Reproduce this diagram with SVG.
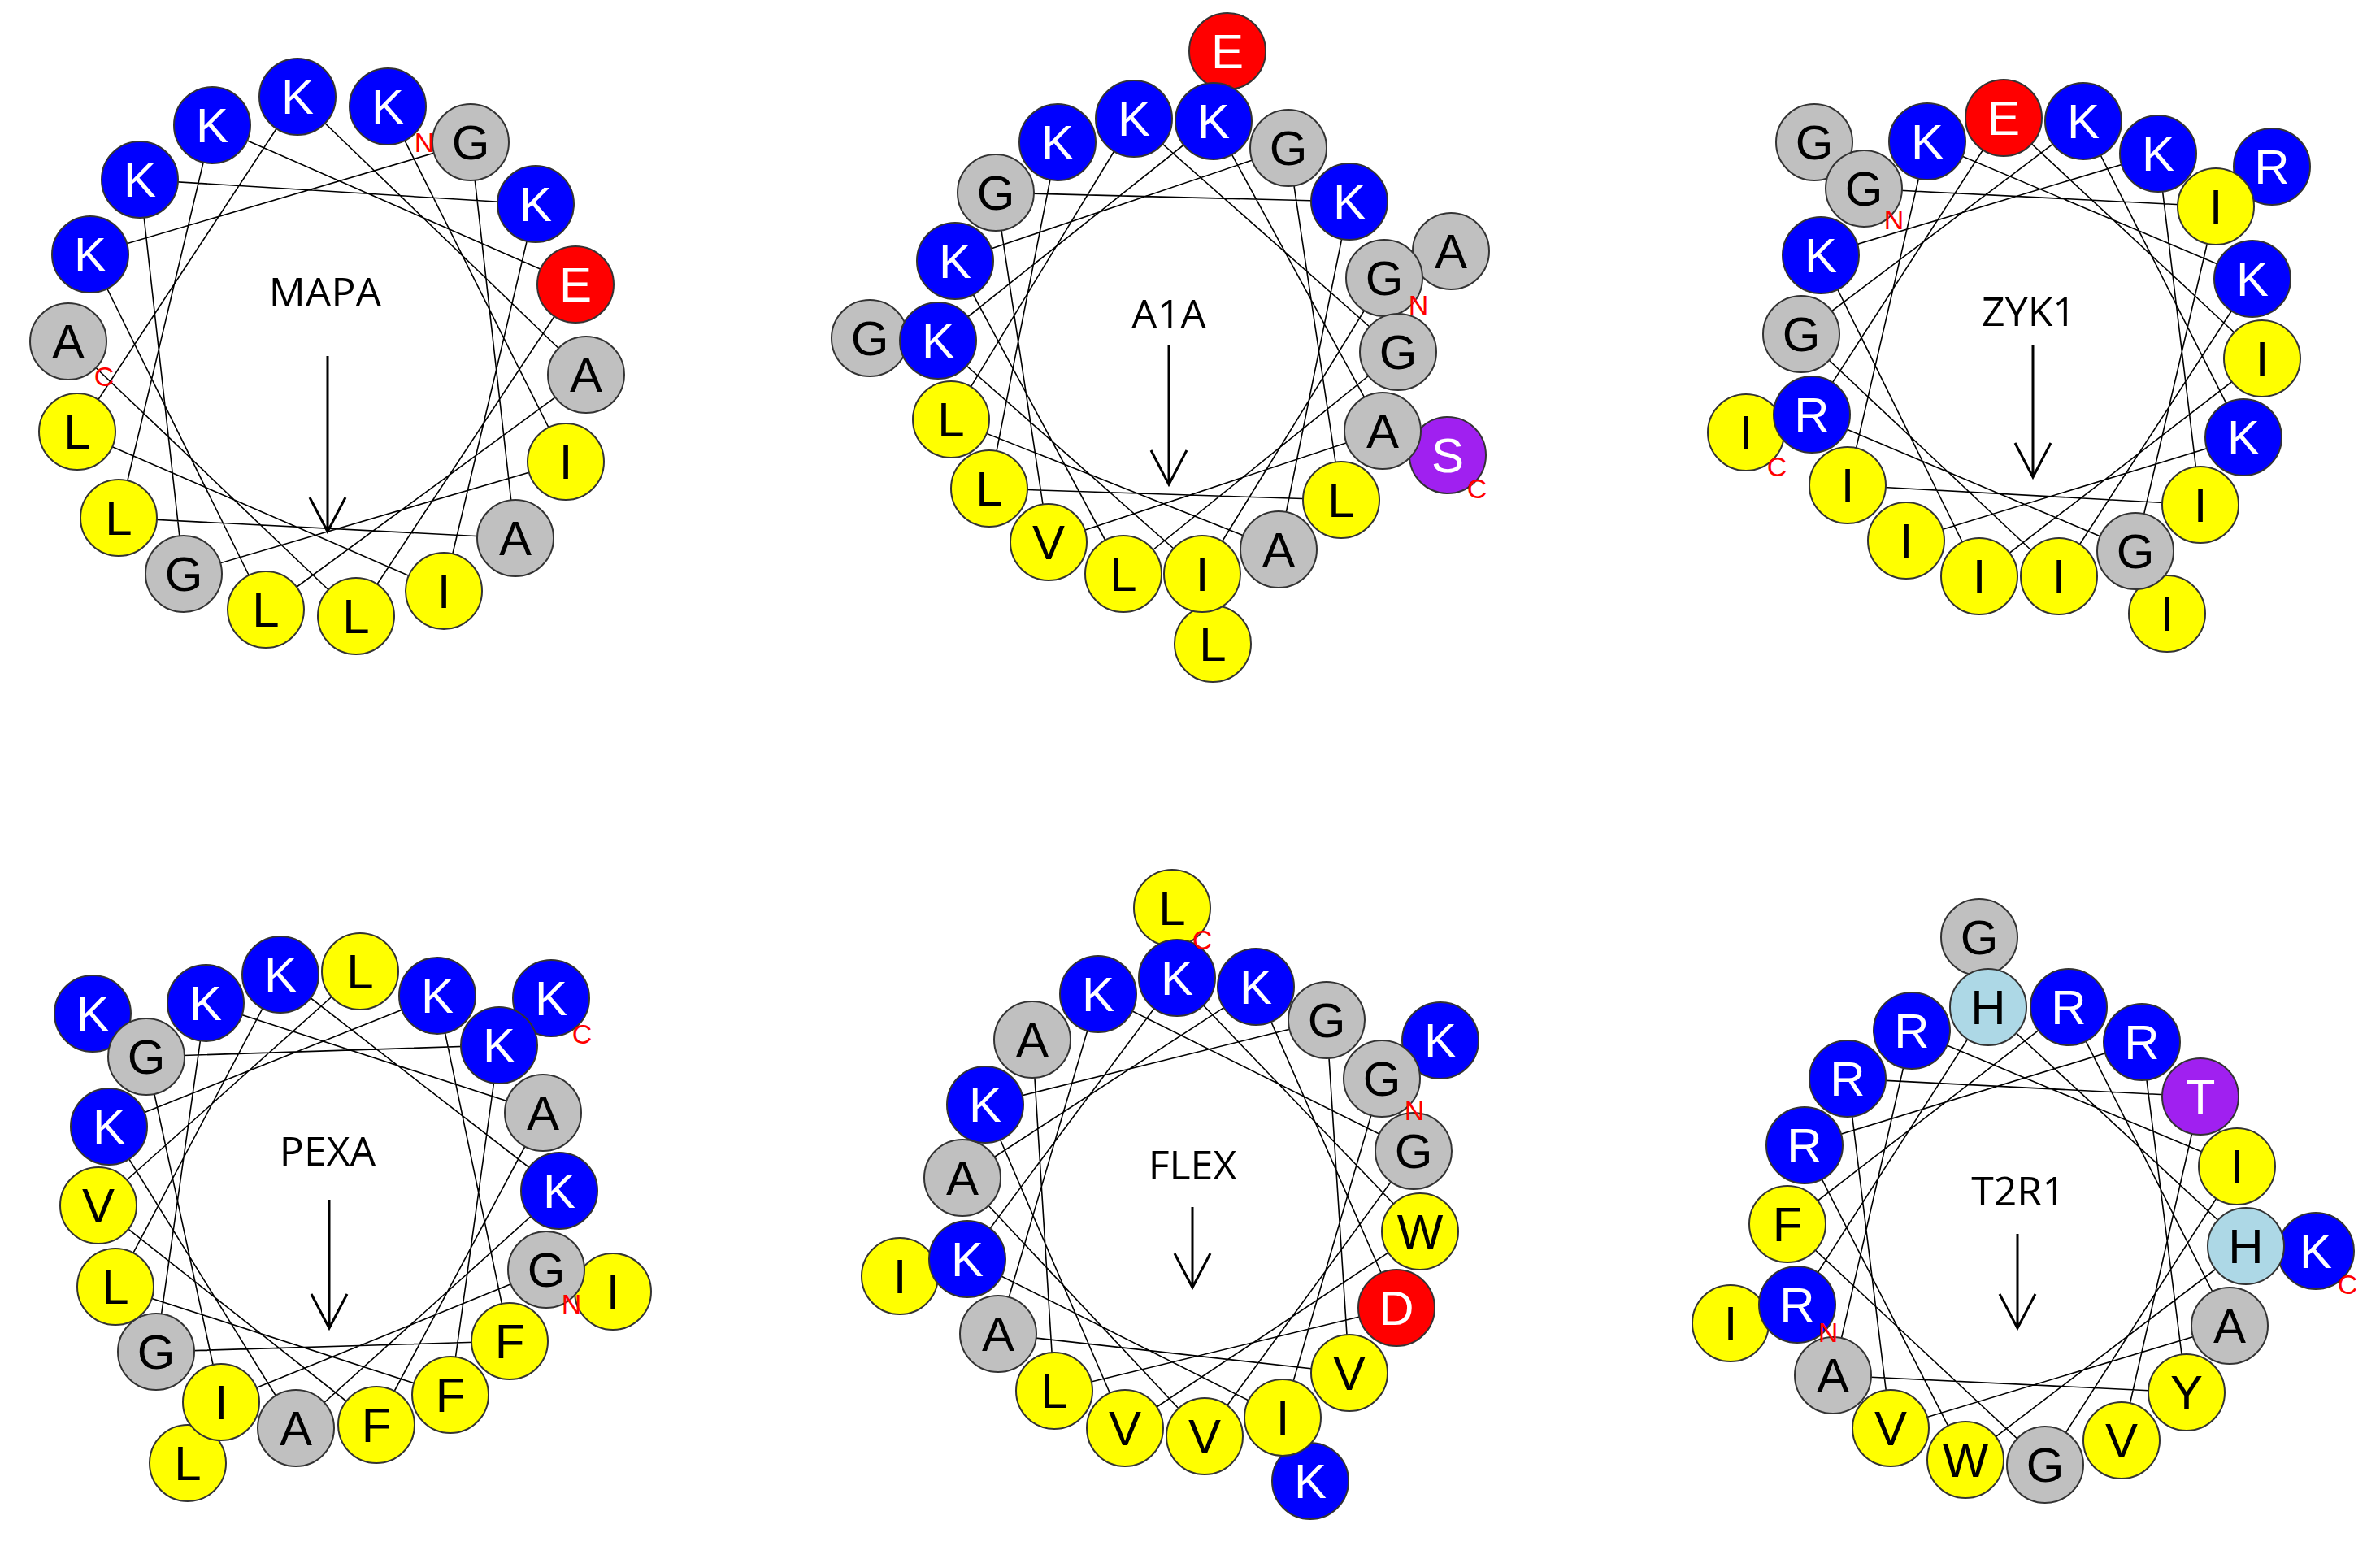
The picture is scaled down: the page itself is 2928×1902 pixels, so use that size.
<svg xmlns="http://www.w3.org/2000/svg" width="2928" height="1902" viewBox="0 0 2928 1902">
<style>
circle{stroke:#333;stroke-width:2}
.b{fill:#0000ff}.y{fill:#ffff00}.g{fill:#c0c0c0}.r{fill:#ff0000}.p{fill:#a020f0}.h{fill:#add8e6}
text{font-family:"Liberation Sans",Arial,sans-serif;text-anchor:middle}
.t{font-size:60px;fill:#000}.w{fill:#fff}
.nm{font-family:"Open Sans","Noto Sans",sans-serif;font-size:50px;fill:#000}
.nc{font-size:34px;fill:#ff0000}
.ch{fill:none;stroke:#000;stroke-width:1.6}
.ar{fill:none;stroke:#000;stroke-width:3}
</style>
<rect width="2928" height="1902" fill="#fff"/>
<g id="connectors">
<path class="ch" d="M366,119L721,461M477,131L696,568M579,175L634,662M659,251L546,727M708,350L438,758M721,461L327,750M696,568L226,706M634,662L146,637M546,727L95,531M438,758L84,420M327,750L111,313M226,706L172,221M146,637L261,154M95,531L366,119M111,313L579,175M172,221L659,251M261,154L708,350"/>
<path class="ch" d="M1493,149L1701,530M1585,182L1650,615M1660,248L1573,676M1703,342L1479,706M1720,433L1382,706M1701,530L1290,667M1650,615L1217,601M1573,676L1170,516M1479,706L1154,419M1382,706L1175,321M1290,667L1225,237M1217,601L1301,175M1170,516L1395,146M1154,419L1493,149M1175,321L1585,182M1225,237L1660,248M1395,146L1720,433"/>
<path class="ch" d="M2465,145L2783,441M2563,149L2760,538M2655,189L2707,621M2726,254L2627,678M2771,343L2533,709M2783,441L2435,709M2760,538L2345,665M2707,621L2273,597M2627,678L2229,510M2533,709L2216,411M2435,709L2240,314M2273,597L2371,174M2229,510L2465,145M2216,411L2563,149M2240,314L2655,189M2293,232L2726,254M2371,174L2771,343"/>
<path class="ch" d="M538,1225L627,1650M614,1286L554,1716M668,1369L463,1753M688,1465L364,1757M672,1562L272,1725M627,1650L192,1663M554,1716L142,1583M463,1753L121,1483M364,1757L134,1386M272,1725L180,1300M192,1663L253,1234M142,1583L345,1199M121,1483L443,1195M134,1386L538,1225M180,1300L614,1286M253,1234L668,1369M345,1199L688,1465"/>
<path class="ch" d="M1448,1203L1747,1515M1545,1214L1718,1609M1632,1255L1660,1689M1700,1327L1578,1744M1739,1416L1482,1767M1747,1515L1384,1757M1718,1609L1297,1711M1660,1689L1228,1641M1578,1744L1190,1549M1482,1767L1184,1449M1384,1757L1212,1359M1297,1711L1270,1279M1228,1641L1351,1223M1190,1549L1448,1203M1184,1449L1545,1214M1212,1359L1632,1255M1351,1223L1739,1416"/>
<path class="ch" d="M2446,1239L2763,1533M2545,1239L2743,1631M2635,1282L2690,1713M2707,1349L2610,1772M2752,1435L2516,1802M2763,1533L2418,1796M2743,1631L2326,1757M2690,1713L2255,1692M2516,1802L2199,1506M2418,1796L2220,1409M2326,1757L2273,1327M2255,1692L2352,1268M2211,1605L2446,1239M2199,1506L2545,1239M2220,1409L2635,1282M2273,1327L2707,1349M2352,1268L2752,1435"/>
<path class="ar" d="M403,438V654M381,612L403,654L425,612"/>
<path class="ar" d="M1438,425V596M1416,554L1438,596L1460,554"/>
<path class="ar" d="M2501,425V587M2479,545L2501,587L2523,545"/>
<path class="ar" d="M405,1476V1634M383,1592L405,1634L427,1592"/>
<path class="ar" d="M1467,1485V1584M1445,1542L1467,1584L1489,1542"/>
<path class="ar" d="M2482,1518V1634M2460,1592L2482,1634L2504,1592"/>
</g>
<g id="labels">
<text class="nm" x="400" y="377">MAPA</text>
<text class="nm" x="1438" y="404">A1A</text>
<text class="nm" x="2496" y="401">ZYK1</text>
<text class="nm" x="403" y="1434">PEXA</text>
<text class="nm" x="1467" y="1451">FLEX</text>
<text class="nm" x="2483" y="1483">T2R1</text>
</g>
<g id="mapa">
<g id="mapa-0"><circle class="b" cx="366" cy="119" r="47"/><text class="t w" x="366" y="140">K</text></g>
<g id="mapa-1"><circle class="b" cx="477" cy="131" r="47"/><text class="t w" x="477" y="152">K</text></g>
<g id="mapa-2"><circle class="g" cx="579" cy="175" r="47"/><text class="t" x="579" y="196">G</text></g>
<g id="mapa-3"><circle class="b" cx="659" cy="251" r="47"/><text class="t w" x="659" y="272">K</text></g>
<g id="mapa-4"><circle class="r" cx="708" cy="350" r="47"/><text class="t w" x="708" y="371">E</text></g>
<g id="mapa-5"><circle class="g" cx="721" cy="461" r="47"/><text class="t" x="721" y="482">A</text></g>
<g id="mapa-6"><circle class="y" cx="696" cy="568" r="47"/><text class="t" x="696" y="589">I</text></g>
<g id="mapa-7"><circle class="g" cx="634" cy="662" r="47"/><text class="t" x="634" y="683">A</text></g>
<g id="mapa-8"><circle class="y" cx="546" cy="727" r="47"/><text class="t" x="546" y="748">I</text></g>
<g id="mapa-9"><circle class="y" cx="438" cy="758" r="47"/><text class="t" x="438" y="779">L</text></g>
<g id="mapa-10"><circle class="y" cx="327" cy="750" r="47"/><text class="t" x="327" y="771">L</text></g>
<g id="mapa-11"><circle class="g" cx="226" cy="706" r="47"/><text class="t" x="226" y="727">G</text></g>
<g id="mapa-12"><circle class="y" cx="146" cy="637" r="47"/><text class="t" x="146" y="658">L</text></g>
<g id="mapa-13"><circle class="y" cx="95" cy="531" r="47"/><text class="t" x="95" y="552">L</text></g>
<g id="mapa-14"><circle class="g" cx="84" cy="420" r="47"/><text class="t" x="84" y="441">A</text></g>
<g id="mapa-15"><circle class="b" cx="111" cy="313" r="47"/><text class="t w" x="111" y="334">K</text></g>
<g id="mapa-16"><circle class="b" cx="172" cy="221" r="47"/><text class="t w" x="172" y="242">K</text></g>
<g id="mapa-17"><circle class="b" cx="261" cy="154" r="47"/><text class="t w" x="261" y="175">K</text></g>
<text class="nc" x="522" y="187">N</text><text class="nc" x="128" y="475">C</text>
</g>
<g id="a1a">
<g id="a1a-o1"><circle class="r" cx="1510" cy="63" r="47"/><text class="t w" x="1510" y="84">E</text></g>
<g id="a1a-o2"><circle class="g" cx="1785" cy="309" r="47"/><text class="t" x="1785" y="330">A</text></g>
<g id="a1a-o3"><circle class="p" cx="1781" cy="560" r="47"/><text class="t w" x="1781" y="581">S</text></g>
<g id="a1a-o4"><circle class="y" cx="1492" cy="792" r="47"/><text class="t" x="1492" y="813">L</text></g>
<g id="a1a-o5"><circle class="g" cx="1070" cy="416" r="47"/><text class="t" x="1070" y="437">G</text></g>
<g id="a1a-0"><circle class="b" cx="1493" cy="149" r="47"/><text class="t w" x="1493" y="170">K</text></g>
<g id="a1a-1"><circle class="g" cx="1585" cy="182" r="47"/><text class="t" x="1585" y="203">G</text></g>
<g id="a1a-2"><circle class="b" cx="1660" cy="248" r="47"/><text class="t w" x="1660" y="269">K</text></g>
<g id="a1a-3"><circle class="g" cx="1703" cy="342" r="47"/><text class="t" x="1703" y="363">G</text></g>
<g id="a1a-4"><circle class="g" cx="1720" cy="433" r="47"/><text class="t" x="1720" y="454">G</text></g>
<g id="a1a-5"><circle class="g" cx="1701" cy="530" r="47"/><text class="t" x="1701" y="551">A</text></g>
<g id="a1a-6"><circle class="y" cx="1650" cy="615" r="47"/><text class="t" x="1650" y="636">L</text></g>
<g id="a1a-7"><circle class="g" cx="1573" cy="676" r="47"/><text class="t" x="1573" y="697">A</text></g>
<g id="a1a-8"><circle class="y" cx="1479" cy="706" r="47"/><text class="t" x="1479" y="727">I</text></g>
<g id="a1a-9"><circle class="y" cx="1382" cy="706" r="47"/><text class="t" x="1382" y="727">L</text></g>
<g id="a1a-10"><circle class="y" cx="1290" cy="667" r="47"/><text class="t" x="1290" y="688">V</text></g>
<g id="a1a-11"><circle class="y" cx="1217" cy="601" r="47"/><text class="t" x="1217" y="622">L</text></g>
<g id="a1a-12"><circle class="y" cx="1170" cy="516" r="47"/><text class="t" x="1170" y="537">L</text></g>
<g id="a1a-13"><circle class="b" cx="1154" cy="419" r="47"/><text class="t w" x="1154" y="440">K</text></g>
<g id="a1a-14"><circle class="b" cx="1175" cy="321" r="47"/><text class="t w" x="1175" y="342">K</text></g>
<g id="a1a-15"><circle class="g" cx="1225" cy="237" r="47"/><text class="t" x="1225" y="258">G</text></g>
<g id="a1a-16"><circle class="b" cx="1301" cy="175" r="47"/><text class="t w" x="1301" y="196">K</text></g>
<g id="a1a-17"><circle class="b" cx="1395" cy="146" r="47"/><text class="t w" x="1395" y="167">K</text></g>
<text class="nc" x="1745" y="387">N</text><text class="nc" x="1817" y="613">C</text>
</g>
<g id="zyk1">
<g id="zyk1-o1"><circle class="g" cx="2232" cy="175" r="47"/><text class="t" x="2232" y="196">G</text></g>
<g id="zyk1-o2"><circle class="b" cx="2795" cy="205" r="47"/><text class="t w" x="2795" y="226">R</text></g>
<g id="zyk1-o3"><circle class="y" cx="2666" cy="755" r="47"/><text class="t" x="2666" y="776">I</text></g>
<g id="zyk1-o4"><circle class="y" cx="2148" cy="532" r="47"/><text class="t" x="2148" y="553">I</text></g>
<g id="zyk1-0"><circle class="r" cx="2465" cy="145" r="47"/><text class="t w" x="2465" y="166">E</text></g>
<g id="zyk1-1"><circle class="b" cx="2563" cy="149" r="47"/><text class="t w" x="2563" y="170">K</text></g>
<g id="zyk1-2"><circle class="b" cx="2655" cy="189" r="47"/><text class="t w" x="2655" y="210">K</text></g>
<g id="zyk1-3"><circle class="y" cx="2726" cy="254" r="47"/><text class="t" x="2726" y="275">I</text></g>
<g id="zyk1-4"><circle class="b" cx="2771" cy="343" r="47"/><text class="t w" x="2771" y="364">K</text></g>
<g id="zyk1-5"><circle class="y" cx="2783" cy="441" r="47"/><text class="t" x="2783" y="462">I</text></g>
<g id="zyk1-6"><circle class="b" cx="2760" cy="538" r="47"/><text class="t w" x="2760" y="559">K</text></g>
<g id="zyk1-7"><circle class="y" cx="2707" cy="621" r="47"/><text class="t" x="2707" y="642">I</text></g>
<g id="zyk1-8"><circle class="g" cx="2627" cy="678" r="47"/><text class="t" x="2627" y="699">G</text></g>
<g id="zyk1-9"><circle class="y" cx="2533" cy="709" r="47"/><text class="t" x="2533" y="730">I</text></g>
<g id="zyk1-10"><circle class="y" cx="2435" cy="709" r="47"/><text class="t" x="2435" y="730">I</text></g>
<g id="zyk1-11"><circle class="y" cx="2345" cy="665" r="47"/><text class="t" x="2345" y="686">I</text></g>
<g id="zyk1-12"><circle class="y" cx="2273" cy="597" r="47"/><text class="t" x="2273" y="618">I</text></g>
<g id="zyk1-13"><circle class="b" cx="2229" cy="510" r="47"/><text class="t w" x="2229" y="531">R</text></g>
<g id="zyk1-14"><circle class="g" cx="2216" cy="411" r="47"/><text class="t" x="2216" y="432">G</text></g>
<g id="zyk1-15"><circle class="b" cx="2240" cy="314" r="47"/><text class="t w" x="2240" y="335">K</text></g>
<g id="zyk1-16"><circle class="g" cx="2293" cy="232" r="47"/><text class="t" x="2293" y="253">G</text></g>
<g id="zyk1-17"><circle class="b" cx="2371" cy="174" r="47"/><text class="t w" x="2371" y="195">K</text></g>
<text class="nc" x="2330" y="282">N</text><text class="nc" x="2186" y="586">C</text>
</g>
<g id="pexa">
<g id="pexa-o1"><circle class="b" cx="114" cy="1247" r="47"/><text class="t w" x="114" y="1268">K</text></g>
<g id="pexa-o2"><circle class="b" cx="678" cy="1228" r="47"/><text class="t w" x="678" y="1249">K</text></g>
<g id="pexa-o3"><circle class="y" cx="754" cy="1589" r="47"/><text class="t" x="754" y="1610">I</text></g>
<g id="pexa-o4"><circle class="y" cx="231" cy="1800" r="47"/><text class="t" x="231" y="1821">L</text></g>
<g id="pexa-0"><circle class="y" cx="443" cy="1195" r="47"/><text class="t" x="443" y="1216">L</text></g>
<g id="pexa-1"><circle class="b" cx="538" cy="1225" r="47"/><text class="t w" x="538" y="1246">K</text></g>
<g id="pexa-2"><circle class="b" cx="614" cy="1286" r="47"/><text class="t w" x="614" y="1307">K</text></g>
<g id="pexa-3"><circle class="g" cx="668" cy="1369" r="47"/><text class="t" x="668" y="1390">A</text></g>
<g id="pexa-4"><circle class="b" cx="688" cy="1465" r="47"/><text class="t w" x="688" y="1486">K</text></g>
<g id="pexa-5"><circle class="g" cx="672" cy="1562" r="47"/><text class="t" x="672" y="1583">G</text></g>
<g id="pexa-6"><circle class="y" cx="627" cy="1650" r="47"/><text class="t" x="627" y="1671">F</text></g>
<g id="pexa-7"><circle class="y" cx="554" cy="1716" r="47"/><text class="t" x="554" y="1737">F</text></g>
<g id="pexa-8"><circle class="y" cx="463" cy="1753" r="47"/><text class="t" x="463" y="1774">F</text></g>
<g id="pexa-9"><circle class="g" cx="364" cy="1757" r="47"/><text class="t" x="364" y="1778">A</text></g>
<g id="pexa-10"><circle class="y" cx="272" cy="1725" r="47"/><text class="t" x="272" y="1746">I</text></g>
<g id="pexa-11"><circle class="g" cx="192" cy="1663" r="47"/><text class="t" x="192" y="1684">G</text></g>
<g id="pexa-12"><circle class="y" cx="142" cy="1583" r="47"/><text class="t" x="142" y="1604">L</text></g>
<g id="pexa-13"><circle class="y" cx="121" cy="1483" r="47"/><text class="t" x="121" y="1504">V</text></g>
<g id="pexa-14"><circle class="b" cx="134" cy="1386" r="47"/><text class="t w" x="134" y="1407">K</text></g>
<g id="pexa-15"><circle class="g" cx="180" cy="1300" r="47"/><text class="t" x="180" y="1321">G</text></g>
<g id="pexa-16"><circle class="b" cx="253" cy="1234" r="47"/><text class="t w" x="253" y="1255">K</text></g>
<g id="pexa-17"><circle class="b" cx="345" cy="1199" r="47"/><text class="t w" x="345" y="1220">K</text></g>
<text class="nc" x="703" y="1616">N</text><text class="nc" x="716" y="1284">C</text>
</g>
<g id="flex">
<g id="flex-o1"><circle class="y" cx="1442" cy="1117" r="47"/><text class="t" x="1442" y="1138">L</text></g>
<g id="flex-o2"><circle class="b" cx="1772" cy="1280" r="47"/><text class="t w" x="1772" y="1301">K</text></g>
<g id="flex-o3"><circle class="b" cx="1612" cy="1822" r="47"/><text class="t w" x="1612" y="1843">K</text></g>
<g id="flex-o4"><circle class="y" cx="1107" cy="1570" r="47"/><text class="t" x="1107" y="1591">I</text></g>
<g id="flex-0"><circle class="b" cx="1448" cy="1203" r="47"/><text class="t w" x="1448" y="1224">K</text></g>
<g id="flex-1"><circle class="b" cx="1545" cy="1214" r="47"/><text class="t w" x="1545" y="1235">K</text></g>
<g id="flex-2"><circle class="g" cx="1632" cy="1255" r="47"/><text class="t" x="1632" y="1276">G</text></g>
<g id="flex-3"><circle class="g" cx="1700" cy="1327" r="47"/><text class="t" x="1700" y="1348">G</text></g>
<g id="flex-4"><circle class="g" cx="1739" cy="1416" r="47"/><text class="t" x="1739" y="1437">G</text></g>
<g id="flex-5"><circle class="y" cx="1747" cy="1515" r="47"/><text class="t" x="1747" y="1536">W</text></g>
<g id="flex-6"><circle class="r" cx="1718" cy="1609" r="47"/><text class="t w" x="1718" y="1630">D</text></g>
<g id="flex-7"><circle class="y" cx="1660" cy="1689" r="47"/><text class="t" x="1660" y="1710">V</text></g>
<g id="flex-8"><circle class="y" cx="1578" cy="1744" r="47"/><text class="t" x="1578" y="1765">I</text></g>
<g id="flex-9"><circle class="y" cx="1482" cy="1767" r="47"/><text class="t" x="1482" y="1788">V</text></g>
<g id="flex-10"><circle class="y" cx="1384" cy="1757" r="47"/><text class="t" x="1384" y="1778">V</text></g>
<g id="flex-11"><circle class="y" cx="1297" cy="1711" r="47"/><text class="t" x="1297" y="1732">L</text></g>
<g id="flex-12"><circle class="g" cx="1228" cy="1641" r="47"/><text class="t" x="1228" y="1662">A</text></g>
<g id="flex-13"><circle class="b" cx="1190" cy="1549" r="47"/><text class="t w" x="1190" y="1570">K</text></g>
<g id="flex-14"><circle class="g" cx="1184" cy="1449" r="47"/><text class="t" x="1184" y="1470">A</text></g>
<g id="flex-15"><circle class="b" cx="1212" cy="1359" r="47"/><text class="t w" x="1212" y="1380">K</text></g>
<g id="flex-16"><circle class="g" cx="1270" cy="1279" r="47"/><text class="t" x="1270" y="1300">A</text></g>
<g id="flex-17"><circle class="b" cx="1351" cy="1223" r="47"/><text class="t w" x="1351" y="1244">K</text></g>
<text class="nc" x="1740" y="1378">N</text><text class="nc" x="1479" y="1168">C</text>
</g>
<g id="t2r1">
<g id="t2r1-o1"><circle class="g" cx="2435" cy="1153" r="47"/><text class="t" x="2435" y="1174">G</text></g>
<g id="t2r1-o2"><circle class="b" cx="2849" cy="1539" r="47"/><text class="t w" x="2849" y="1560">K</text></g>
<g id="t2r1-o3"><circle class="y" cx="2129" cy="1628" r="47"/><text class="t" x="2129" y="1649">I</text></g>
<g id="t2r1-0"><circle class="h" cx="2446" cy="1239" r="47"/><text class="t" x="2446" y="1260">H</text></g>
<g id="t2r1-1"><circle class="b" cx="2545" cy="1239" r="47"/><text class="t w" x="2545" y="1260">R</text></g>
<g id="t2r1-2"><circle class="b" cx="2635" cy="1282" r="47"/><text class="t w" x="2635" y="1303">R</text></g>
<g id="t2r1-3"><circle class="p" cx="2707" cy="1349" r="47"/><text class="t w" x="2707" y="1370">T</text></g>
<g id="t2r1-4"><circle class="y" cx="2752" cy="1435" r="47"/><text class="t" x="2752" y="1456">I</text></g>
<g id="t2r1-5"><circle class="h" cx="2763" cy="1533" r="47"/><text class="t" x="2763" y="1554">H</text></g>
<g id="t2r1-6"><circle class="g" cx="2743" cy="1631" r="47"/><text class="t" x="2743" y="1652">A</text></g>
<g id="t2r1-7"><circle class="y" cx="2690" cy="1713" r="47"/><text class="t" x="2690" y="1734">Y</text></g>
<g id="t2r1-8"><circle class="y" cx="2610" cy="1772" r="47"/><text class="t" x="2610" y="1793">V</text></g>
<g id="t2r1-9"><circle class="g" cx="2516" cy="1802" r="47"/><text class="t" x="2516" y="1823">G</text></g>
<g id="t2r1-10"><circle class="y" cx="2418" cy="1796" r="47"/><text class="t" x="2418" y="1817">W</text></g>
<g id="t2r1-11"><circle class="y" cx="2326" cy="1757" r="47"/><text class="t" x="2326" y="1778">V</text></g>
<g id="t2r1-12"><circle class="g" cx="2255" cy="1692" r="47"/><text class="t" x="2255" y="1713">A</text></g>
<g id="t2r1-13"><circle class="b" cx="2211" cy="1605" r="47"/><text class="t w" x="2211" y="1626">R</text></g>
<g id="t2r1-14"><circle class="y" cx="2199" cy="1506" r="47"/><text class="t" x="2199" y="1527">F</text></g>
<g id="t2r1-15"><circle class="b" cx="2220" cy="1409" r="47"/><text class="t w" x="2220" y="1430">R</text></g>
<g id="t2r1-16"><circle class="b" cx="2273" cy="1327" r="47"/><text class="t w" x="2273" y="1348">R</text></g>
<g id="t2r1-17"><circle class="b" cx="2352" cy="1268" r="47"/><text class="t w" x="2352" y="1289">R</text></g>
<text class="nc" x="2249" y="1651">N</text><text class="nc" x="2888" y="1592">C</text>
</g>
</svg>
